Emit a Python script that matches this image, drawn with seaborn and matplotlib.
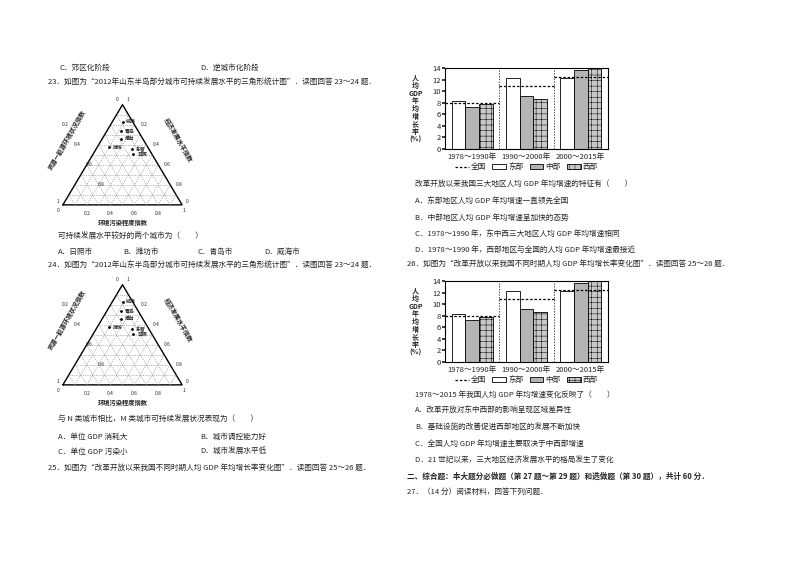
import numpy as np
import pandas as pd
import matplotlib
matplotlib.use("Agg")
import matplotlib.pyplot as plt
from matplotlib.patches import Ellipse, Patch
from matplotlib.lines import Line2D
import seaborn as sns

# données
periods = ["1978～1990年", "1990～2000年", "2000～2015年"]
regions = ["东部", "中部", "西部"]
east = [8.3, 12.2, 12.2]
middle = [7.2, 9.2, 13.6]
west = [7.7, 8.7, 14.0]
national = [7.9, 10.9, 12.4]

cities = ["威海", "青岛", "烟台", "潍坊", "东营", "日照"]
city_x = [0.53, 0.52, 0.52, 0.42, 0.61, 0.62]
city_y = [0.72, 0.64, 0.57, 0.50, 0.48, 0.44]
tern_ticks = [0.2, 0.4, 0.6, 0.8]

sns.set_theme(style="white")
plt.rcParams['font.family'] = ['Noto Sans CJK SC', 'DejaVu Sans']
plt.rcParams['axes.unicode_minus'] = False
plt.rcParams['hatch.linewidth'] = 0.35

W, H = 800, 565
fig = plt.figure(figsize=(8, 5.65), dpi=100)
fig.patch.set_facecolor("white")


def txt(x, y, s, size=5.5, **kw):
    fig.text(x / W, 1 - y / H, s, fontsize=size, va="center", ha="left", **kw)


def rect(x0, y0, x1, y1):
    return [x0 / W, 1 - y1 / H, (x1 - x0) / W, (y1 - y0) / H]


def ternary(ax):
    h = np.sqrt(3) / 2
    ax.plot([0, 1, 0.5, 0], [0, 0, h, 0], color="black", lw=1)
    for t in np.arange(0.1, 1.0, 0.1):
        ax.plot([t, 0.5 + t / 2], [0, h * (1 - t)], color="gray", lw=0.4, ls=(0, (2, 2)))
        ax.plot([t, t / 2], [0, h * t], color="gray", lw=0.4, ls=(0, (2, 2)))
        ax.plot([t / 2, 1 - t / 2], [h * t, h * t], color="gray", lw=0.4, ls=(0, (2, 2)))
    for t in tern_ticks:
        ax.text(t, -0.05, f"{t:g}", fontsize=3.5, ha="center", va="top")
        ax.text(t / 2 - 0.05, h * (1 - t), f"{t:g}", fontsize=3.5, ha="right", va="center")
        ax.text(1 - t / 2 + 0.05, h * t, f"{1 - t:g}", fontsize=3.5, ha="left", va="center")
    ax.text(0.47, h + 0.03, "0", fontsize=3.5, ha="right")
    ax.text(0.53, h + 0.03, "1", fontsize=3.5, ha="left")
    ax.text(-0.03, 0.02, "1", fontsize=3.5, ha="right")
    ax.text(-0.03, -0.06, "0", fontsize=3.5, ha="right")
    ax.text(1.03, 0.02, "0", fontsize=3.5, ha="left")
    ax.text(1.0, -0.06, "1", fontsize=3.5, ha="left")
    ax.text(0.5, -0.17, "环境污染程度指数", fontsize=4.5, ha="center", weight="bold")
    ax.text(0.03, 0.56, "资源—能源环境状况指数", fontsize=4.5, rotation=60,
            ha="center", va="center", weight="bold")
    ax.text(0.97, 0.56, "经济发展水平指数", fontsize=4.5, rotation=-60,
            ha="center", va="center", weight="bold")
    for n, x, y in zip(cities, city_x, city_y):
        ax.plot(x - 0.03, y, "o", color="black", ms=1)
        ax.text(x, y, n, fontsize=3.5, ha="left", va="center", weight="bold")
    ax.add_patch(Ellipse((0.53, 0.64), 0.17, 0.36, fill=False, ls="--", lw=0.6))
    ax.add_patch(Ellipse((0.63, 0.46), 0.26, 0.18, fill=False, ls="--", lw=0.6))
    ax.set_xlim(-0.15, 1.15)
    ax.set_ylim(-0.2, 0.95)
    ax.axis("off")


def bars(ax):
    df = pd.DataFrame({
        "period": periods * 3,
        "region": [r for r in regions for _ in periods],
        "value": east + middle + west,
    })
    sns.barplot(data=df, x="period", y="value", hue="region", ax=ax,
                width=0.75, edgecolor="black", linewidth=0.6, legend=False)
    styles = [("white", ""), ("#b4b4b4", ""), ("#c8c8c8", "+++")]
    for cont, (fc, hatch) in zip(ax.containers, styles):
        for p in cont:
            p.set_facecolor(fc)
            p.set_hatch(hatch)
    for i, v in enumerate(national):
        ax.plot([i - 0.5, i + 0.5], [v, v], color="black", lw=0.9, ls=(0, (2, 1.5)))
    for xv in [0.5, 1.5]:
        ax.axvline(xv, color="black", lw=0.5, ls=(0, (2, 2)))
    ax.set_xlim(-0.5, 2.5)
    ax.set_ylim(0, 14)
    ax.set_yticks(range(0, 15, 2))
    ax.tick_params(axis="both", labelsize=5.5, length=2, pad=1)
    ax.tick_params(axis="y", left=True)
    ax.set_xlabel("")
    ax.set_ylabel("人\n均\nGDP\n年\n均\n增\n长\n率\n(%)", rotation=0, fontsize=5,
                  weight="bold", labelpad=12, va="center", ha="center", linespacing=1.1)
    for s in ax.spines.values():
        s.set_linewidth(0.8)
        s.set_color("black")
    handles = [Line2D([], [], color="black", ls=(0, (2, 1.5)), lw=0.9),
               Patch(facecolor="white", edgecolor="black", lw=0.6),
               Patch(facecolor="#b4b4b4", edgecolor="black", lw=0.6),
               Patch(facecolor="#c8c8c8", edgecolor="black", lw=0.6, hatch="+++")]
    ax.legend(handles, ["全国"] + regions, loc="upper center", bbox_to_anchor=(0.5, -0.14),
              ncol=4, frameon=False, fontsize=5.5, handlelength=1.8, columnspacing=0.8,
              handletextpad=0.3, borderaxespad=0)


# colonne de gauche
txt(60, 68, "C．郊区化阶段")
txt(200, 68, "D．逆城市化阶段")
txt(48, 83, "23．如图为“2012年山东半岛部分城市可持续发展水平的三角形统计图”．读图回答 23～24 题．")
ternary(fig.add_axes(rect(45, 95, 200, 228)))
txt(58, 237, "可持续发展水平较好的两个城市为（　　）")
for x, s in zip([58, 123, 198, 264], ["A．日照市", "B．潍坊市", "C．青岛市", "D．威海市"]):
    txt(x, 252, s)
txt(48, 266, "24．如图为“2012年山东半岛部分城市可持续发展水平的三角形统计图”．读图回答 23～24 题．")
ternary(fig.add_axes(rect(45, 275, 200, 408)))
txt(58, 420, "与 N 类城市相比，M 类城市可持续发展状况表现为（　　）")
txt(58, 437, "A．单位 GDP 消耗大")
txt(200, 437, "B．城市调控能力好")
txt(58, 452, "C．单位 GDP 污染小")
txt(200, 452, "D．城市发展水平低")
txt(48, 468, "25．如图为“改革开放以来我国不同时期人均 GDP 年均增长率变化图”．读图回答 25～26 题．")

# colonne de droite
bars(fig.add_axes(rect(445, 68, 608, 149)))
txt(415, 184, "改革开放以来我国三大地区人均 GDP 年均增速的特征有（　　）")
txt(415, 201, "A．东部地区人均 GDP 年均增速一直领先全国")
txt(415, 218, "B．中部地区人均 GDP 年均增速呈加快的态势")
txt(415, 234, "C．1978～1990 年，东中西三大地区人均 GDP 年均增速相同")
txt(415, 250, "D．1978～1990 年，西部地区与全国的人均 GDP 年均增速最接近")
txt(407, 264, "26．如图为“改革开放以来我国不同时期人均 GDP 年均增长率变化图”．读图回答 25～26 题．")
bars(fig.add_axes(rect(445, 281, 608, 362)))
txt(415, 395, "1978～2015 年我国人均 GDP 年均增速变化反映了（　　）")
txt(415, 411, "A．改革开放对东中西部的影响呈现区域差异性")
txt(415, 428, "B．基础设施的改善促进西部地区的发展不断加快")
txt(415, 444, "C．全国人均 GDP 年均增速主要取决于中西部增速")
txt(415, 460, "D．21 世纪以来，三大地区经济发展水平的格局发生了变化")
txt(407, 476, "二、综合题：本大题分必做题（第 27 题～第 29 题）和选做题（第 30 题），共计 60 分．", weight="bold")
txt(407, 492, "27．（14 分）阅读材料，回答下列问题．")

fig.savefig("out.png", dpi=100, facecolor="white")
